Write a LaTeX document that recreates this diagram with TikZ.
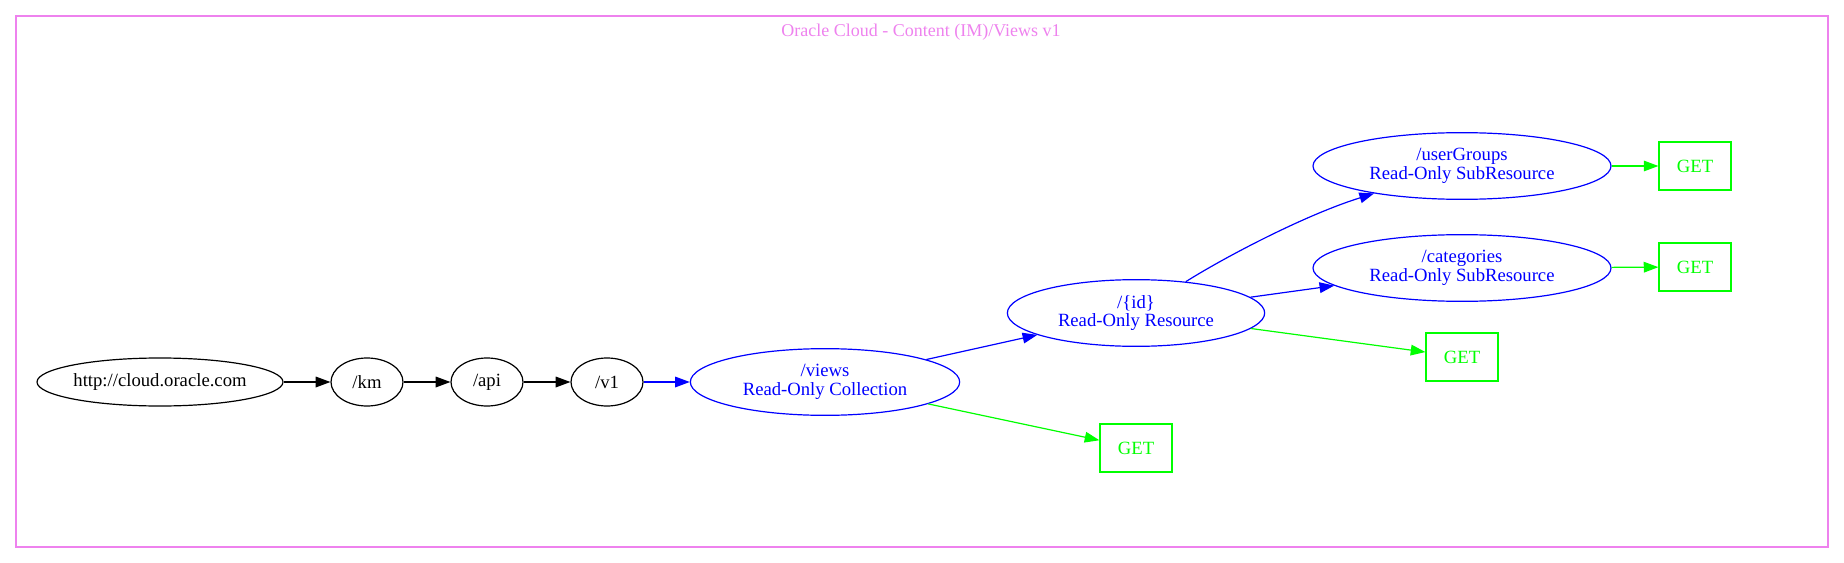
\documentclass[tikz,border=0pt]{standalone}
\usepackage{fontspec}
\setmainfont{Liberation Serif}
\usetikzlibrary{shapes.geometric,arrows.meta}

\definecolor{clusterviolet}{RGB}{238,130,238}
\definecolor{getgreen}{RGB}{0,255,0}
\definecolor{resblue}{RGB}{0,0,255}

\tikzset{
  every node/.style={font=\fontsize{14}{14}\selectfont, align=center},
  seg/.style={draw, ellipse, inner sep=0pt, minimum width=54pt, minimum height=36pt},
  res/.style={seg, resblue, text=resblue, minimum height=50pt},
  getbox/.style={draw, rectangle, getgreen, text=getgreen, inner sep=0pt,
    minimum width=54pt, minimum height=36pt},
  link/.style={-{Triangle[length=11pt,width=8pt]}, line width=0.9pt},
}

\begin{document}
\begin{tikzpicture}[x=0.75pt, y=-0.75pt, line width=0.9pt]

    % fix the page to the reference size
    \useasboundingbox (0,0) rectangle (1844,563);

    % cluster frame and title
    \draw[clusterviolet] (16,16) rectangle (1828,547);
    \node[text=clusterviolet, anchor=base, font=\fontsize{13.5}{13.5}\selectfont]
      (title) at (921,36.5) {Oracle Cloud - Content (IM)/Views v1};

    % path segments
    \node[seg, minimum width=184.5pt] (root) at (160,382) {http://cloud.oracle.com};
    \node[seg] (km) at (367,382) {/km};
    \node[seg] (api) at (487,382) {/api};
    \node[seg] (v1) at (607,382) {/v1};

    % resources
    \node[res, minimum width=202pt] (views) at (825,382) {/views\\Read-Only Collection};
    \node[res, minimum width=193pt] (id) at (1136,313) {/\{id\}\\Read-Only Resource};
    \node[res, minimum width=223.5pt] (cat) at (1462,268) {/categories\\Read-Only SubResource};
    \node[res, minimum width=223.5pt] (ug) at (1462,166) {/userGroups\\Read-Only SubResource};

    % methods
    \node[getbox] (getviews) at (1136,448) {GET};
    \node[getbox] (getid) at (1462,357) {GET};
    \node[getbox] (getcat) at (1695,267) {GET};
    \node[getbox] (getug) at (1695,166) {GET};

    % black chain
    \foreach \a/\b in {root/km, km/api, api/v1}
      \draw[link] (\a) -- (\b);

    % blue edges
    \draw[link, resblue] (v1) -- (views);
    \draw[link, resblue] (views) -- (id);
    \draw[link, resblue] (id) -- (cat);
    \draw[link, resblue] (id) .. controls (1225,257) and (1305,215) .. (ug);

    % green edges
    \foreach \a/\b in {views/getviews, id/getid, cat/getcat, ug/getug}
      \draw[link, getgreen] (\a) -- (\b);
  \end{tikzpicture}
\end{document}
